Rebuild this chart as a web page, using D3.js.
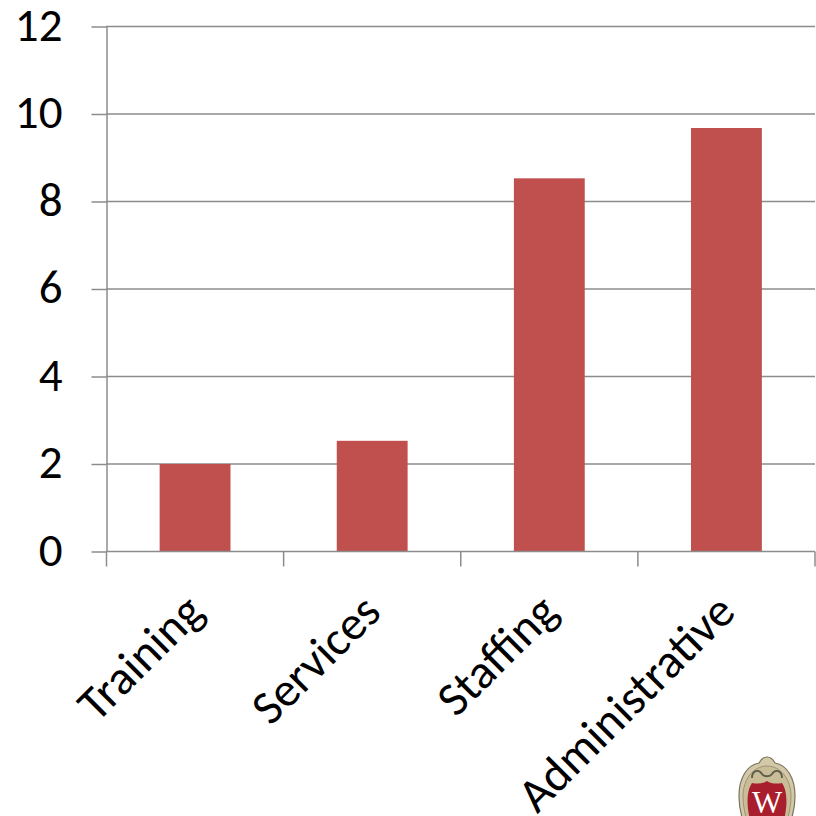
<!DOCTYPE html>
<html><head><meta charset="utf-8">
<script src="https://cdn.jsdelivr.net/npm/d3@7"></script>
<style>html,body{margin:0;background:#fff}svg{display:block}</style></head>
<body><svg id="c" width="816" height="816"></svg>
<script>
const categories = ["Training","Services","Staffing","Administrative"];
const values = [2.0,2.53,8.53,9.68];
const yTicks = [0,2,4,6,8,10,12];
const svg = d3.select("#c");
const font = "Carlito, Calibri, Lato, 'Open Sans', sans-serif";
const x = d3.scaleBand().domain(categories).range([106.5,815]).paddingInner(0.6).paddingOuter(0.3);
const edges = d3.scaleLinear().domain([0,categories.length]).range([106.5,815]);
const y = d3.scaleLinear().domain([0,12]).range([551.5,26.5]);
const axisColor = "#8c8c8c";
const axisWidth = 1.5;

// horizontal gridlines
svg.append("g").selectAll("line").data(yTicks.filter(d=>d>0)).join("line")
  .attr("x1",106).attr("x2",815).attr("y1",d=>y(d)).attr("y2",d=>y(d))
  .attr("stroke",axisColor).attr("stroke-width",axisWidth);

// bars
svg.append("g").selectAll("rect").data(categories).join("rect")
  .attr("x",d=>x(d)).attr("width",x.bandwidth())
  .attr("y",(d,i)=>y(values[i])).attr("height",(d,i)=>y(0)-y(values[i]))
  .attr("fill","#c0504d");

// value axis
const gy = svg.append("g").attr("transform","translate(106.5,0)")
  .call(d3.axisLeft(y).tickValues(yTicks).tickSize(15).tickSizeOuter(0).tickPadding(29));
gy.selectAll("line").attr("stroke",axisColor).attr("stroke-width",axisWidth);
gy.selectAll("text").attr("fill","#000").attr("font-family",font).attr("font-size",47).attr("dy","0.29em");

// category axis with separators between the groups
const gx = svg.append("g").attr("transform","translate(0,551.5)");
gx.append("line").attr("x1",106).attr("x2",815).attr("stroke",axisColor).attr("stroke-width",axisWidth);
gx.selectAll("line.sep").data(d3.range(categories.length+1)).join("line").attr("class","sep")
  .attr("x1",edges).attr("x2",edges).attr("y1",0).attr("y2",15)
  .attr("stroke",axisColor).attr("stroke-width",axisWidth);
gx.selectAll("text.cat").data(categories).join("text").attr("class","cat")
  .attr("transform",d=>`translate(${x(d)+x.bandwidth()/2-1},${51}) rotate(-45)`)
  .attr("text-anchor","end").attr("dy","0.35em")
  .attr("fill","#000").attr("font-family",font).attr("font-size",48).text(d=>d);
svg.selectAll(".domain").attr("stroke",axisColor).attr("stroke-width",axisWidth);

// university crest, cut off by the page edge
const crest = svg.append("g").attr("transform","translate(767,790)");
crest.append("path")
  .attr("d","M0,-33 C3,-33 6,-31 8,-27 C20,-25 28,-12 28,6 C28,20 24,34 16,44 L-16,44 C-24,34 -28,20 -28,6 C-28,-12 -20,-25 -8,-27 C-6,-31 -3,-33 0,-33Z")
  .attr("fill","#d3c9a8").attr("stroke","#7b745d").attr("stroke-width",1.2);
crest.append("path")
  .attr("d","M0,-24 C14,-24 24,-10 24,6 C24,20 20,34 13,44 L-13,44 C-20,34 -24,20 -24,6 C-24,-10 -14,-24 0,-24Z")
  .attr("fill","#c9bd97").attr("stroke","#8f876c").attr("stroke-width",0.8);
crest.append("path")
  .attr("d","M-15,-12 C-15,-20 -8,-21 -5,-16 C-3,-13 3,-13 5,-16 C8,-21 15,-20 15,-12")
  .attr("fill","none").attr("stroke","#5d5a48").attr("stroke-width",1.8);
crest.append("path")
  .attr("d","M0,-9 C4,-6 10,-6 15,-7 C20,0 21,14 17,30 L-17,30 C-21,14 -20,0 -15,-7 C-10,-6 -4,-6 0,-9Z")
  .attr("fill","#a91e2c");
crest.append("text").attr("x",0).attr("y",23).attr("text-anchor","middle")
  .attr("font-family","'Liberation Serif', serif").attr("font-size",32).attr("fill","#fff").text("W");
</script></body></html>
